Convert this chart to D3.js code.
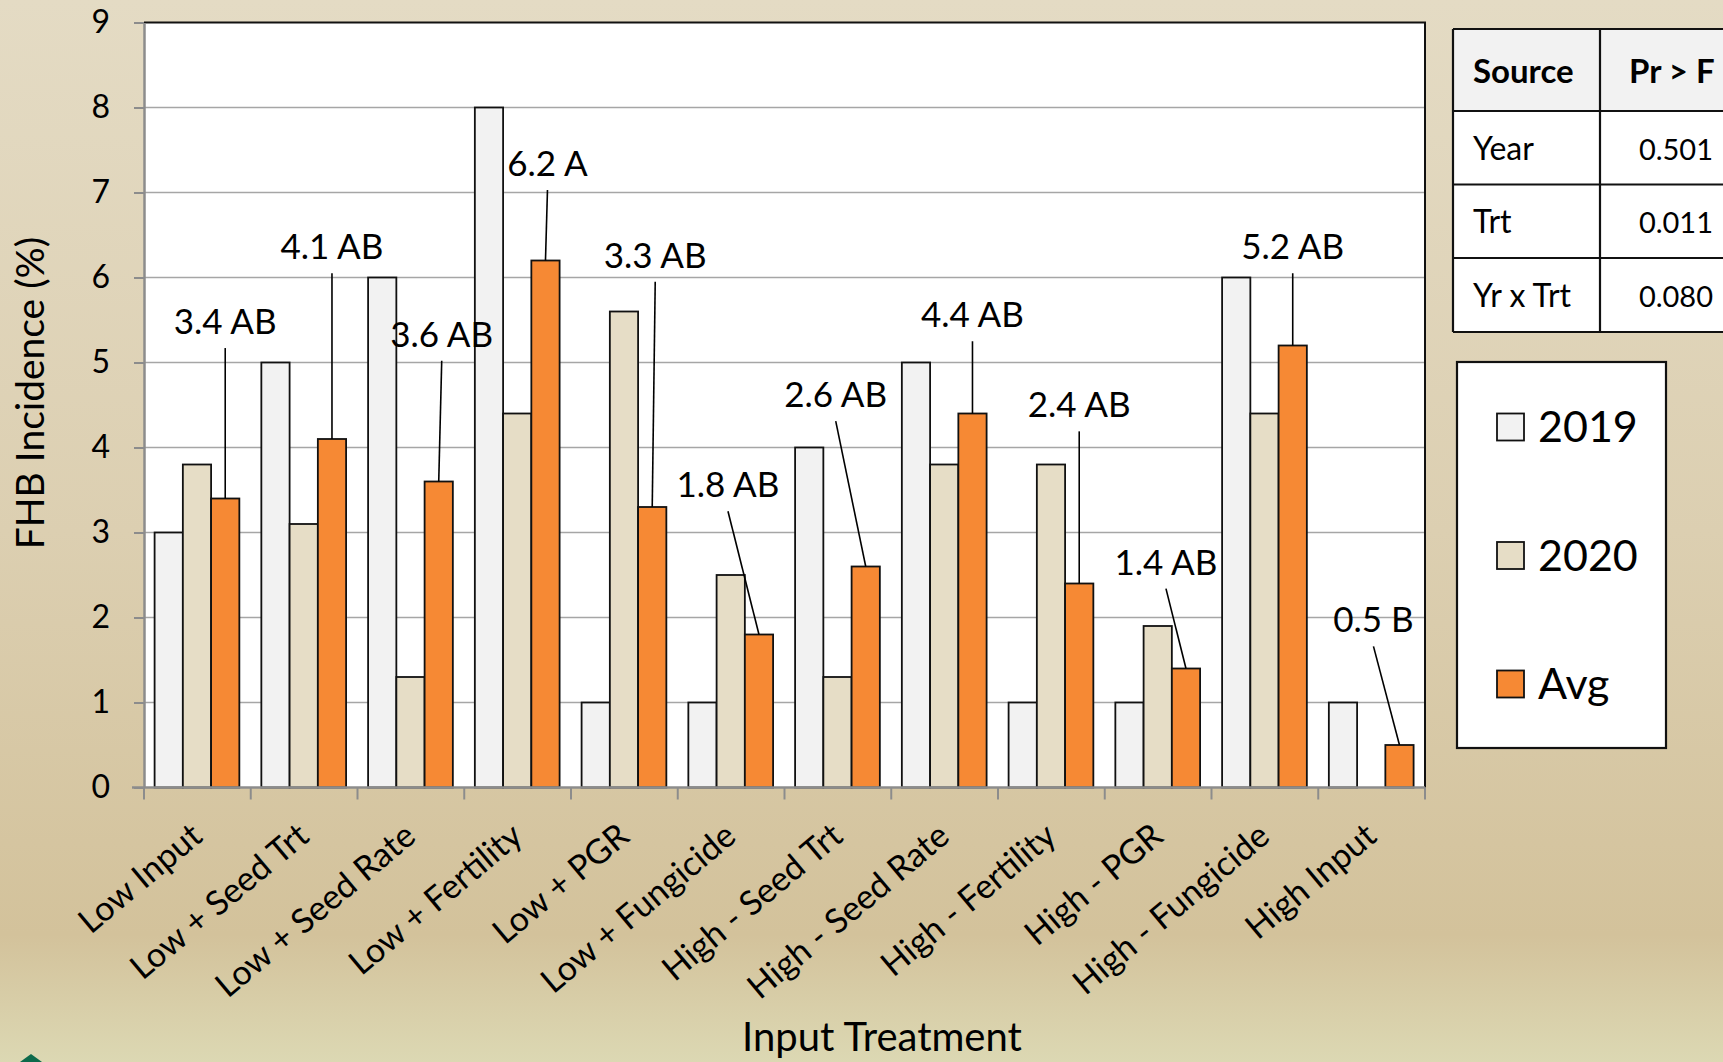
<!DOCTYPE html>
<html>
<head>
<meta charset="utf-8">
<script src="https://cdn.jsdelivr.net/npm/d3@7"></script>
<style>
  html, body { margin: 0; padding: 0; overflow: hidden; }
  svg { display: block; font-family: Lato, "Open Sans", sans-serif; }
</style>
</head>
<body>
<svg id="chart"></svg>
<script>
// Chart data
const treatments = ["Low Input", "Low + Seed Trt", "Low + Seed Rate", "Low + Fertility", "Low + PGR",
    "Low + Fungicide", "High - Seed Trt", "High - Seed Rate", "High - Fertility", "High - PGR",
    "High - Fungicide", "High Input"];
const series = ["2019", "2020", "Avg"];
const values2019 = [3, 5, 6, 8, 1, 1, 4, 5, 1, 1, 6, 1];
const values2020 = [3.8, 3.1, 1.3, 4.4, 5.6, 2.5, 1.3, 3.8, 3.8, 1.9, 4.4, 0];
const valuesAvg = [3.4, 4.1, 3.6, 6.2, 3.3, 1.8, 2.6, 4.4, 2.4, 1.4, 5.2, 0.5];
const letters = ["AB", "AB", "AB", "A", "AB", "AB", "AB", "AB", "AB", "AB", "AB", "B"];
const yTicks = [0, 1, 2, 3, 4, 5, 6, 7, 8, 9];
const anovaSources = ["Year", "Trt", "Yr x Trt"];
const anovaP = ["0.501", "0.011", "0.080"];

// Where each mean label sits (top of leader line in y units, sideways shift in px)
const labelTop = [5.17, 6.05, 5.02, 7.03, 5.95, 3.25, 4.31, 5.25, 4.19, 2.34, 6.05, 1.66];
const labelShift = [0, 0, 3, 2, 3, -31, -30, 0, 0, -20, 0, -26];

const rows = treatments.map((t, i) => ({
    treatment: t,
    values: [values2019[i], values2020[i], valuesAvg[i]],
    label: valuesAvg[i].toFixed(1) + " " + letters[i],
    top: labelTop[i],
    shift: labelShift[i]
}));

// Dimensions
const dimensions = {
    width: 1723,
    height: 1062,
    plot: { left: 144, right: 1425, top: 22.5, bottom: 787.5 }
};

const colorScale = d3.scaleOrdinal()
    .domain(series)
    .range(["#f2f2f2", "#e6ddc6", "#f68934"]);

const xScale = d3.scaleBand()
    .domain(treatments)
    .range([dimensions.plot.left, dimensions.plot.right]);

const innerScale = d3.scaleBand()
    .domain(series)
    .range([10.6, xScale.bandwidth() - 11.4]);

const yScale = d3.scaleLinear()
    .domain([0, 9])
    .range([dimensions.plot.bottom, dimensions.plot.top]);

const svg = d3.select("#chart")
    .attr("width", dimensions.width)
    .attr("height", dimensions.height);

// Background gradient
const grad = svg.append("defs").append("linearGradient")
    .attr("id", "bg")
    .attr("x1", 0).attr("y1", 0).attr("x2", 0).attr("y2", 1);
grad.append("stop").attr("offset", "0%").attr("stop-color", "#e4dbc4");
grad.append("stop").attr("offset", "50%").attr("stop-color", "#dccfb1");
grad.append("stop").attr("offset", "88%").attr("stop-color", "#d3c29b");
grad.append("stop").attr("offset", "100%").attr("stop-color", "#dcd8b3");

svg.append("rect")
    .attr("width", dimensions.width)
    .attr("height", dimensions.height)
    .attr("fill", "url(#bg)");

// Plot area
svg.append("rect")
    .attr("x", dimensions.plot.left)
    .attr("y", dimensions.plot.top)
    .attr("width", dimensions.plot.right - dimensions.plot.left)
    .attr("height", dimensions.plot.bottom - dimensions.plot.top)
    .attr("fill", "white");

// Gridlines
svg.append("g")
    .selectAll("line")
    .data(yTicks.filter(d => d > 0 && d < 9))
    .enter()
    .append("line")
    .attr("x1", dimensions.plot.left)
    .attr("x2", dimensions.plot.right)
    .attr("y1", d => yScale(d))
    .attr("y2", d => yScale(d))
    .attr("stroke", "#a6a6a6")
    .attr("stroke-width", 1.5);

// Top and right border
svg.append("path")
    .attr("d", `M${dimensions.plot.left},${dimensions.plot.top}H${dimensions.plot.right}V${dimensions.plot.bottom}`)
    .attr("fill", "none")
    .attr("stroke", "#111")
    .attr("stroke-width", 2);

// Bars
const groups = svg.append("g")
    .selectAll("g")
    .data(rows)
    .enter()
    .append("g")
    .attr("transform", d => `translate(${xScale(d.treatment)},0)`);

groups.selectAll("rect")
    .data(d => d.values.map((v, j) => ({ key: series[j], value: v })).filter(e => e.value > 0))
    .enter()
    .append("rect")
    .attr("x", d => innerScale(d.key))
    .attr("y", d => yScale(d.value))
    .attr("width", innerScale.bandwidth())
    .attr("height", d => yScale(0) - yScale(d.value))
    .attr("fill", d => colorScale(d.key))
    .attr("stroke", "#111")
    .attr("stroke-width", 1.8);

// Y axis
const yAxis = svg.append("g")
    .attr("transform", `translate(${dimensions.plot.left},0)`)
    .call(d3.axisLeft(yScale).tickValues(yTicks).tickSize(10).tickSizeOuter(0).tickPadding(24));
yAxis.select(".domain").attr("stroke", "#8c8c8c").attr("stroke-width", 2.5);
yAxis.selectAll(".tick line").attr("stroke", "#8c8c8c").attr("stroke-width", 2);
yAxis.selectAll(".tick text")
    .attr("fill", "#000")
    .style("font-size", "32px")
    .style("font-family", "Lato, sans-serif");

// X axis (ticks between categories)
const xAxis = svg.append("g");
xAxis.append("line")
    .attr("x1", dimensions.plot.left - 12)
    .attr("x2", dimensions.plot.right)
    .attr("y1", dimensions.plot.bottom)
    .attr("y2", dimensions.plot.bottom)
    .attr("stroke", "#8c8c8c")
    .attr("stroke-width", 2.5);
xAxis.selectAll(".xtick")
    .data(treatments.map(t => xScale(t)).concat([xScale.range()[1]]))
    .enter()
    .append("line")
    .attr("x1", d => d)
    .attr("x2", d => d)
    .attr("y1", dimensions.plot.bottom)
    .attr("y2", dimensions.plot.bottom + 12)
    .attr("stroke", "#8c8c8c")
    .attr("stroke-width", 2);
xAxis.selectAll(".xlabel")
    .data(treatments)
    .enter()
    .append("text")
    .attr("transform", d => `translate(${xScale(d) + xScale.bandwidth() / 2 + 7},${dimensions.plot.bottom + 52}) rotate(-40)`)
    .attr("text-anchor", "end")
    .style("font-size", "34px")
    .attr("fill", "#000")
    .text(d => d);

// Mean labels with leader lines
const avgX = d => xScale(d.treatment) + innerScale("Avg") + innerScale.bandwidth() / 2;
svg.append("g")
    .selectAll("line")
    .data(rows)
    .enter()
    .append("line")
    .attr("x1", d => avgX(d) + d.shift)
    .attr("y1", d => yScale(d.top))
    .attr("x2", d => avgX(d))
    .attr("y2", d => yScale(d.values[2]))
    .attr("stroke", "#000")
    .attr("stroke-width", 1.6);
svg.append("g")
    .selectAll("text")
    .data(rows)
    .enter()
    .append("text")
    .attr("x", d => avgX(d) + d.shift)
    .attr("y", d => yScale(d.top) - 14)
    .attr("text-anchor", "middle")
    .style("font-size", "35px")
    .attr("fill", "#000")
    .text(d => d.label);

// Axis titles
svg.append("text")
    .attr("transform", "translate(44,393) rotate(-90)")
    .attr("text-anchor", "middle")
    .style("font-size", "39px")
    .text("FHB Incidence (%)");
svg.append("text")
    .attr("x", 882)
    .attr("y", 1051)
    .attr("text-anchor", "middle")
    .style("font-size", "40px")
    .text("Input Treatment");

// ANOVA table
const table = { left: 1453, mid: 1600, right: 1780, rowsY: [29, 111, 184.5, 258, 332] };
const tbl = svg.append("g");
tbl.append("rect")
    .attr("x", table.left).attr("y", table.rowsY[0])
    .attr("width", table.right - table.left).attr("height", table.rowsY[1] - table.rowsY[0])
    .attr("fill", "#f2f2f2");
tbl.append("rect")
    .attr("x", table.left).attr("y", table.rowsY[1])
    .attr("width", table.right - table.left).attr("height", table.rowsY[4] - table.rowsY[1])
    .attr("fill", "white");
tbl.selectAll(".hline")
    .data(table.rowsY)
    .enter()
    .append("line")
    .attr("x1", table.left).attr("x2", table.right)
    .attr("y1", d => d).attr("y2", d => d)
    .attr("stroke", "#111").attr("stroke-width", 2.2);
tbl.selectAll(".vline")
    .data([table.left, table.mid])
    .enter()
    .append("line")
    .attr("x1", d => d).attr("x2", d => d)
    .attr("y1", table.rowsY[0]).attr("y2", table.rowsY[4])
    .attr("stroke", "#111").attr("stroke-width", 2.2);
tbl.append("text")
    .attr("x", 1473).attr("y", 83)
    .style("font-size", "33px").style("font-weight", "bold")
    .text("Source");
tbl.append("text")
    .attr("x", 1629).attr("y", 83)
    .style("font-size", "33px").style("font-weight", "bold")
    .text("Pr > F");
tbl.selectAll(".src")
    .data(anovaSources)
    .enter()
    .append("text")
    .attr("x", 1473)
    .attr("y", (d, i) => (table.rowsY[i + 1] + table.rowsY[i + 2]) / 2 + 12)
    .style("font-size", "32px")
    .text(d => d);
tbl.selectAll(".pval")
    .data(anovaP)
    .enter()
    .append("text")
    .attr("x", 1713)
    .attr("y", (d, i) => (table.rowsY[i + 1] + table.rowsY[i + 2]) / 2 + 12)
    .attr("text-anchor", "end")
    .style("font-size", "29px")
    .text(d => d);

// Legend
const legend = svg.append("g");
legend.append("rect")
    .attr("x", 1457).attr("y", 362)
    .attr("width", 209).attr("height", 386)
    .attr("fill", "white")
    .attr("stroke", "#111")
    .attr("stroke-width", 2.2);
const legendY = d3.scalePoint().domain(series).range([427, 684]);
legend.selectAll(".swatch")
    .data(series)
    .enter()
    .append("rect")
    .attr("x", 1497)
    .attr("y", d => legendY(d) - 13.5)
    .attr("width", 27)
    .attr("height", 27)
    .attr("fill", d => colorScale(d))
    .attr("stroke", "#111")
    .attr("stroke-width", 1.8);
legend.selectAll(".ltext")
    .data(series)
    .enter()
    .append("text")
    .attr("x", 1538)
    .attr("y", d => legendY(d) + 15)
    .style("font-size", "43px")
    .text(d => d);

// Corner of a logo peeking in at the bottom left
svg.append("path")
    .attr("d", "M20,1062 L31,1054 L42,1062 Z")
    .attr("fill", "#0d6a4b");
</script>
</body>
</html>
